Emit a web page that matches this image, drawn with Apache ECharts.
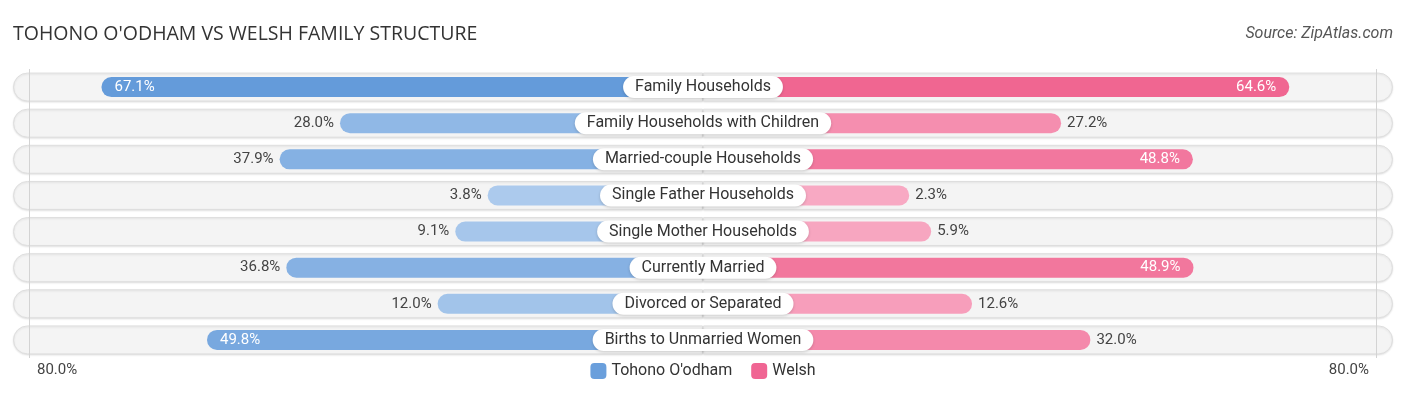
<!DOCTYPE html>
<html>
<head>
<meta charset="utf-8">
<script src="https://cdn.jsdelivr.net/npm/echarts@6/dist/echarts.min.js"></script>
<style>
html,body{margin:0;padding:0;background:#fff;}
#c{width:1406px;height:395px;}
</style>
</head>
<body>
<div id="c"></div>
<script>
var categories = ["Family Households","Family Households with Children","Married-couple Households","Single Father Households","Single Mother Households","Currently Married","Divorced or Separated","Births to Unmarried Women"];
var tohono = [67.1, 28.0, 37.9, 3.8, 9.1, 36.8, 12.0, 49.8];
var welsh = [64.6, 27.2, 48.8, 2.3, 5.9, 48.9, 12.6, 32.0];
var seriesNames = ["Tohono O'odham", "Welsh"];
var tickLabels = ["80.0%", "80.0%"];

// layout constants (style)
var OFFSET = 31.5;      // space reserved for the centre label, in % units
var EDGE = 113.1;       // half-width of the row pill, in % units
var GRIDLINE = 78.9 + OFFSET;
var INSIDE_MIN = 45;

function mix(a, b, t) {
  var r = Math.round(a[0] + (b[0]-a[0])*t), g = Math.round(a[1] + (b[1]-a[1])*t), bl = Math.round(a[2] + (b[2]-a[2])*t);
  return 'rgb(' + r + ',' + g + ',' + bl + ')';
}
var blueLight = [176,205,238], blueDark = [99,154,218];
var pinkLight = [248,172,197], pinkDark = [240,98,142];

function mkData(vals, sign, light, dark) {
  return vals.map(function (v) {
    var t = Math.min(1, v / 68);
    var inside = v >= INSIDE_MIN;
    return {
      value: sign * (OFFSET + v),
      itemStyle: { color: mix(light, dark, t) },
      label: {
        show: true,
        position: inside ? (sign < 0 ? 'insideLeft' : 'insideRight') : (sign < 0 ? 'left' : 'right'),
        distance: inside ? 13 : 6,
        color: inside ? '#ffffff' : '#444444',
        fontSize: 15,
        fontFamily: 'Roboto',
        fontWeight: 400,
        formatter: v.toFixed(1) + '%'
      }
    };
  });
}

var chart = echarts.init(document.getElementById('c'));
var option = {
  animation: false,
  title: [
    { text: "TOHONO O'ODHAM VS WELSH FAMILY STRUCTURE", left: 8, top: 19,
      textStyle: { fontFamily: 'Open Sans', fontSize: 19.5, fontWeight: 400, color: '#333' } },
    { text: 'Source: ZipAtlas.com', right: 8, top: 21,
      textStyle: { fontFamily: 'Roboto', fontSize: 16, fontStyle: 'italic', fontWeight: 400, color: '#555' } }
  ],
  legend: {
    data: seriesNames, bottom: 11, left: 'center', itemWidth: 16, itemHeight: 16, itemGap: 19,
    icon: 'roundRect',
    textStyle: { fontFamily: 'Roboto', fontSize: 16, color: '#333' }
  },
  grid: { left: 13, right: 13, top: 69, bottom: 37 },
  xAxis: { type: 'value', min: -EDGE, max: EDGE, show: false },
  yAxis: [
    { type: 'category', data: categories, inverse: true, show: false },
    { type: 'category', data: categories, inverse: true, show: false }
  ],
  graphic: [
    { type: 'text', left: 37, top: 363, style: { text: tickLabels[0], fontFamily: 'Roboto', fontSize: 15, fill: '#444' } },
    { type: 'text', right: 37, top: 363, style: { text: tickLabels[1], fontFamily: 'Roboto', fontSize: 15, fill: '#444' } }
  ],
  series: [
    { type: 'bar', yAxisIndex: 1, stack: 'bg', barWidth: 29, silent: true, z: 1,
      data: categories.map(function () { return -EDGE; }),
      itemStyle: { color: '#f4f4f4', borderColor: '#dedede', borderWidth: 1, borderRadius: [15, 0, 0, 15],
        shadowColor: 'rgba(0,0,0,0.10)', shadowBlur: 2, shadowOffsetY: 1 },
      markLine: { silent: true, symbol: 'none', label: { show: false },
        lineStyle: { color: '#d3d3d3', width: 1, type: 'solid' },
        data: [{ xAxis: -GRIDLINE }, { xAxis: GRIDLINE }] }
    },
    { type: 'bar', yAxisIndex: 1, stack: 'bg', barWidth: 29, silent: true, z: 1,
      data: categories.map(function () { return EDGE; }),
      itemStyle: { color: '#f4f4f4', borderColor: '#dedede', borderWidth: 1, borderRadius: [0, 15, 15, 0],
        shadowColor: 'rgba(0,0,0,0.10)', shadowBlur: 2, shadowOffsetY: 1 }
    },
    { name: seriesNames[0], type: 'bar', yAxisIndex: 0, stack: 'main', barWidth: 20, z: 3,
      itemStyle: { color: '#6a9fdc', borderRadius: [10, 0, 0, 10] },
      data: mkData(tohono, -1, blueLight, blueDark) },
    { name: seriesNames[1], type: 'bar', yAxisIndex: 0, stack: 'main', barWidth: 20, z: 3,
      itemStyle: { color: '#f06593', borderRadius: [0, 10, 10, 0] },
      data: mkData(welsh, 1, pinkLight, pinkDark) },
    { type: 'scatter', yAxisIndex: 0, z: 5, symbolSize: 1, silent: true,
      itemStyle: { color: '#ffffff', opacity: 1 },
      data: categories.map(function (c, i) { return [0, c]; }),
      label: { show: true, position: 'inside', formatter: function (p) { return categories[p.dataIndex]; },
        fontFamily: 'Roboto', fontSize: 16, color: '#333', lineHeight: 18, opacity: 1,
        backgroundColor: '#ffffff', borderRadius: 11, padding: [2, 12, 2, 12],
        shadowColor: 'rgba(0,0,0,0.18)', shadowBlur: 3, shadowOffsetY: 1 }
    }
  ]
};
chart.setOption(option);
</script>
</body>
</html>
